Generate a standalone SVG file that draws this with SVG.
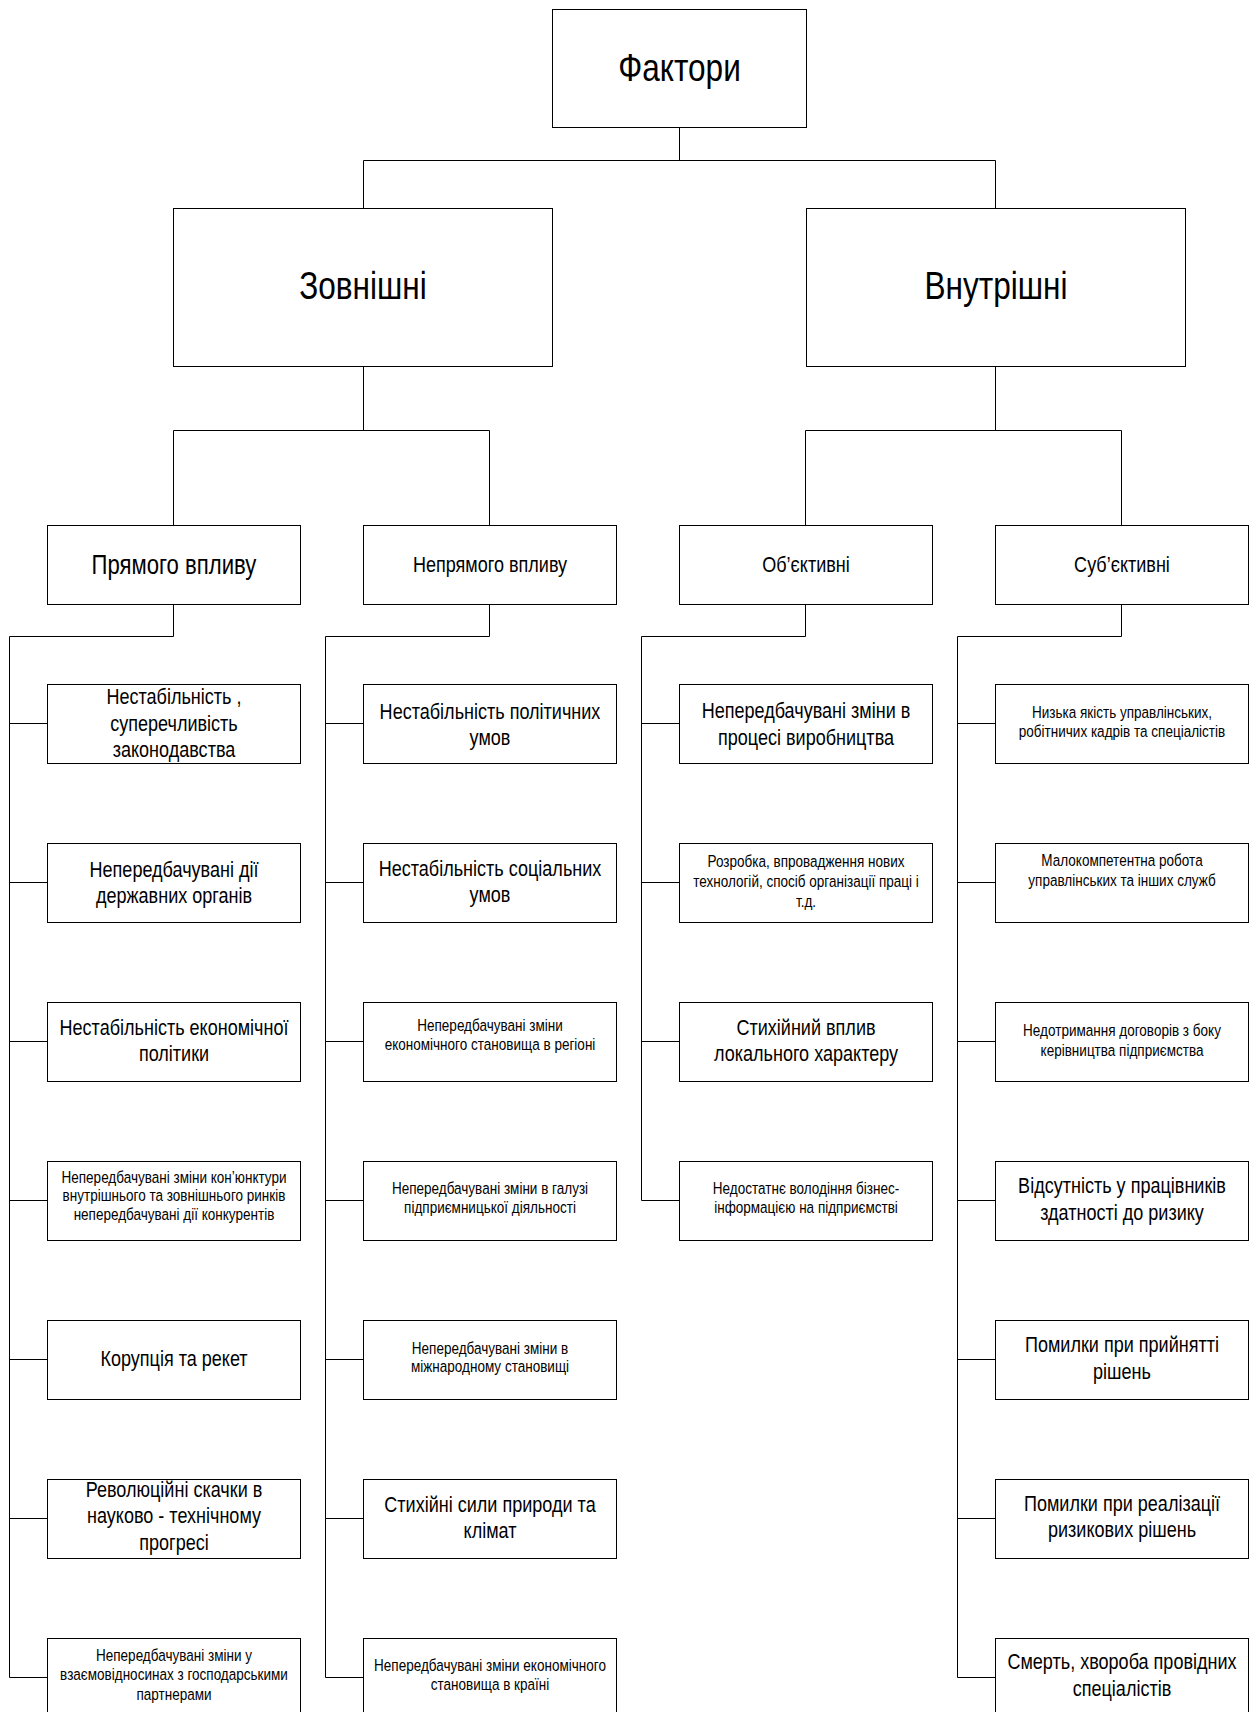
<svg xmlns="http://www.w3.org/2000/svg" width="1250" height="1712" viewBox="0 0 1250 1712">
<style>
.box{fill:#fff;stroke:#000;stroke-width:1}
.conn{fill:none;stroke:#000;stroke-width:1}
text{font-family:"Liberation Sans",Arial,sans-serif;text-anchor:middle;fill:#000}
.XL{font-size:38.5px}.T{font-size:38.5px}.M{font-size:27px}.N{font-size:22px}.L{font-size:22px}.S{font-size:16.5px}
</style>
<rect width="1250" height="1712" fill="#fff"/>
<g id="connectors">
<path class="conn" d="M679.5,128 V160.5 M363.5,208 V160.5 H995.5 V208"/>
<path class="conn" d="M363.5,366 V430.5 M173.5,525 V430.5 H489.5 V525"/>
<path class="conn" d="M995.5,366 V430.5 M805.5,525 V430.5 H1121.5 V525"/>
<path class="conn" d="M173.5,604 V636.5 H9.5 V1677.5 M9.5,723.5 H47 M9.5,882.5 H47 M9.5,1041.5 H47 M9.5,1200.5 H47 M9.5,1359.5 H47 M9.5,1518.5 H47 M9.5,1677.5 H47"/>
<path class="conn" d="M489.5,604 V636.5 H325.5 V1677.5 M325.5,723.5 H363 M325.5,882.5 H363 M325.5,1041.5 H363 M325.5,1200.5 H363 M325.5,1359.5 H363 M325.5,1518.5 H363 M325.5,1677.5 H363"/>
<path class="conn" d="M805.5,604 V636.5 H641.5 V1200.5 M641.5,723.5 H679 M641.5,882.5 H679 M641.5,1041.5 H679 M641.5,1200.5 H679"/>
<path class="conn" d="M1121.5,604 V636.5 H957.5 V1677.5 M957.5,723.5 H995 M957.5,882.5 H995 M957.5,1041.5 H995 M957.5,1200.5 H995 M957.5,1359.5 H995 M957.5,1518.5 H995 M957.5,1677.5 H995"/>
</g>

<g id="n-root"><rect class="box" x="552.5" y="9.5" width="254" height="118"/>
<g transform="translate(679.5 0) scale(0.82 1)"><text class="T" x="0" y="81">Фактори</text></g></g>

<g id="n-ext"><rect class="box" x="173.5" y="208.5" width="379" height="158"/>
<g transform="translate(363 0) scale(0.82 1)"><text class="XL" x="0" y="299">Зовнішні</text></g></g>
<g id="n-int"><rect class="box" x="806.5" y="208.5" width="379" height="158"/>
<g transform="translate(996 0) scale(0.82 1)"><text class="XL" x="0" y="299">Внутрішні</text></g></g>

<g id="n-direct"><rect class="box" x="47.5" y="525.5" width="253" height="79"/>
<g transform="translate(174 0) scale(0.82 1)"><text class="M" x="0" y="574">Прямого впливу</text></g></g>
<g id="n-indirect"><rect class="box" x="363.5" y="525.5" width="253" height="79"/>
<g transform="translate(490 0) scale(0.82 1)"><text class="N" x="0" y="572.5">Непрямого впливу</text></g></g>
<g id="n-obj"><rect class="box" x="679.5" y="525.5" width="253" height="79"/>
<g transform="translate(806 0) scale(0.82 1)"><text class="N" x="0" y="572.5">Об’єктивні</text></g></g>
<g id="n-subj"><rect class="box" x="995.5" y="525.5" width="253" height="79"/>
<g transform="translate(1122 0) scale(0.82 1)"><text class="N" x="0" y="572.5">Суб’єктивні</text></g></g>

<!-- Column 1 -->
<g id="c1r1"><rect class="box" x="47.5" y="684.5" width="253" height="79"/>
<g transform="translate(174 0) scale(0.82 1)"><text class="L" x="0" y="704.5">Нестабільність ,</text><text class="L" x="0" y="731">суперечливість</text><text class="L" x="0" y="757.5">законодавства</text></g></g>
<g id="c1r2"><rect class="box" x="47.5" y="843.5" width="253" height="79"/>
<g transform="translate(174 0) scale(0.82 1)"><text class="L" x="0" y="877">Непередбачувані дії</text><text class="L" x="0" y="903.5">державних органів</text></g></g>
<g id="c1r3"><rect class="box" x="47.5" y="1002.5" width="253" height="79"/>
<g transform="translate(174 0) scale(0.82 1)"><text class="L" x="0" y="1035">Нестабільність економічної</text><text class="L" x="0" y="1061.5">політики</text></g></g>
<g id="c1r4"><rect class="box" x="47.5" y="1161.5" width="253" height="79"/>
<g transform="translate(174 0) scale(0.82 1)"><text class="S" x="0" y="1183">Непередбачувані зміни кон’юнктури</text><text class="S" x="0" y="1201.5">внутрішнього та  зовнішнього ринків</text><text class="S" x="0" y="1220">непередбачувані дії конкурентів</text></g></g>
<g id="c1r5"><rect class="box" x="47.5" y="1320.5" width="253" height="79"/>
<g transform="translate(174 0) scale(0.82 1)"><text class="L" x="0" y="1366">Корупція та рекет</text></g></g>
<g id="c1r6"><rect class="box" x="47.5" y="1479.5" width="253" height="79"/>
<g transform="translate(174 0) scale(0.82 1)"><text class="L" x="0" y="1497">Революційні скачки в</text><text class="L" x="0" y="1523.5">науково - технічному</text><text class="L" x="0" y="1550">прогресі</text></g></g>
<g id="c1r7"><rect class="box" x="47.5" y="1638.5" width="253" height="79"/>
<g transform="translate(174 0) scale(0.82 1)"><text class="S" x="0" y="1661">Непередбачувані зміни у</text><text class="S" x="0" y="1680.5">взаємовідносинах з господарськими</text><text class="S" x="0" y="1700">партнерами</text></g></g>

<!-- Column 2 -->
<g id="c2r1"><rect class="box" x="363.5" y="684.5" width="253" height="79"/>
<g transform="translate(490 0) scale(0.82 1)"><text class="L" x="0" y="719">Нестабільність політичних</text><text class="L" x="0" y="745.5">умов</text></g></g>
<g id="c2r2"><rect class="box" x="363.5" y="843.5" width="253" height="79"/>
<g transform="translate(490 0) scale(0.82 1)"><text class="L" x="0" y="876">Нестабільність соціальних</text><text class="L" x="0" y="902.5">умов</text></g></g>
<g id="c2r3"><rect class="box" x="363.5" y="1002.5" width="253" height="79"/>
<g transform="translate(490 0) scale(0.82 1)"><text class="S" x="0" y="1031">Непередбачувані зміни</text><text class="S" x="0" y="1050">економічного становища в регіоні</text></g></g>
<g id="c2r4"><rect class="box" x="363.5" y="1161.5" width="253" height="79"/>
<g transform="translate(490 0) scale(0.82 1)"><text class="S" x="0" y="1194">Непередбачувані зміни в галузі</text><text class="S" x="0" y="1213">підприємницької діяльності</text></g></g>
<g id="c2r5"><rect class="box" x="363.5" y="1320.5" width="253" height="79"/>
<g transform="translate(490 0) scale(0.82 1)"><text class="S" x="0" y="1354">Непередбачувані зміни в</text><text class="S" x="0" y="1372.5">міжнародному становищі</text></g></g>
<g id="c2r6"><rect class="box" x="363.5" y="1479.5" width="253" height="79"/>
<g transform="translate(490 0) scale(0.82 1)"><text class="L" x="0" y="1512">Стихійні сили природи та</text><text class="L" x="0" y="1538">клімат</text></g></g>
<g id="c2r7"><rect class="box" x="363.5" y="1638.5" width="253" height="79"/>
<g transform="translate(490 0) scale(0.82 1)"><text class="S" x="0" y="1671">Непередбачувані зміни економічного</text><text class="S" x="0" y="1690">становища в країні</text></g></g>

<!-- Column 3 -->
<g id="c3r1"><rect class="box" x="679.5" y="684.5" width="253" height="79"/>
<g transform="translate(806 0) scale(0.82 1)"><text class="L" x="0" y="718.5">Непередбачувані зміни в</text><text class="L" x="0" y="745">процесі виробництва</text></g></g>
<g id="c3r2"><rect class="box" x="679.5" y="843.5" width="253" height="79"/>
<g transform="translate(806 0) scale(0.82 1)"><text class="S" x="0" y="867">Розробка, впровадження нових</text><text class="S" x="0" y="887">технологій, спосіб організації праці і</text><text class="S" x="0" y="907">т.д.</text></g></g>
<g id="c3r3"><rect class="box" x="679.5" y="1002.5" width="253" height="79"/>
<g transform="translate(806 0) scale(0.82 1)"><text class="L" x="0" y="1035">Стихійний вплив</text><text class="L" x="0" y="1061.5">локального характеру</text></g></g>
<g id="c3r4"><rect class="box" x="679.5" y="1161.5" width="253" height="79"/>
<g transform="translate(806 0) scale(0.82 1)"><text class="S" x="0" y="1194">Недостатнє володіння бізнес-</text><text class="S" x="0" y="1213.5">інформацією на підприємстві</text></g></g>

<!-- Column 4 -->
<g id="c4r1"><rect class="box" x="995.5" y="684.5" width="253" height="79"/>
<g transform="translate(1122 0) scale(0.82 1)"><text class="S" x="0" y="718">Низька якість управлінських,</text><text class="S" x="0" y="737.5">робітничих кадрів та спеціалістів</text></g></g>
<g id="c4r2"><rect class="box" x="995.5" y="843.5" width="253" height="79"/>
<g transform="translate(1122 0) scale(0.82 1)"><text class="S" x="0" y="866">Малокомпетентна робота</text><text class="S" x="0" y="886.5">управлінських та інших служб</text></g></g>
<g id="c4r3"><rect class="box" x="995.5" y="1002.5" width="253" height="79"/>
<g transform="translate(1122 0) scale(0.82 1)"><text class="S" x="0" y="1036">Недотримання договорів з боку</text><text class="S" x="0" y="1056">керівництва підприємства</text></g></g>
<g id="c4r4"><rect class="box" x="995.5" y="1161.5" width="253" height="79"/>
<g transform="translate(1122 0) scale(0.82 1)"><text class="L" x="0" y="1193">Відсутність у працівників</text><text class="L" x="0" y="1220">здатності до ризику</text></g></g>
<g id="c4r5"><rect class="box" x="995.5" y="1320.5" width="253" height="79"/>
<g transform="translate(1122 0) scale(0.82 1)"><text class="L" x="0" y="1352.5">Помилки при прийнятті</text><text class="L" x="0" y="1379">рішень</text></g></g>
<g id="c4r6"><rect class="box" x="995.5" y="1479.5" width="253" height="79"/>
<g transform="translate(1122 0) scale(0.82 1)"><text class="L" x="0" y="1511">Помилки при реалізації</text><text class="L" x="0" y="1537">ризикових рішень</text></g></g>
<g id="c4r7"><rect class="box" x="995.5" y="1638.5" width="253" height="79"/>
<g transform="translate(1122 0) scale(0.82 1)"><text class="L" x="0" y="1669.5">Смерть, хвороба провідних</text><text class="L" x="0" y="1696.5">спеціалістів</text></g></g>
</svg>
